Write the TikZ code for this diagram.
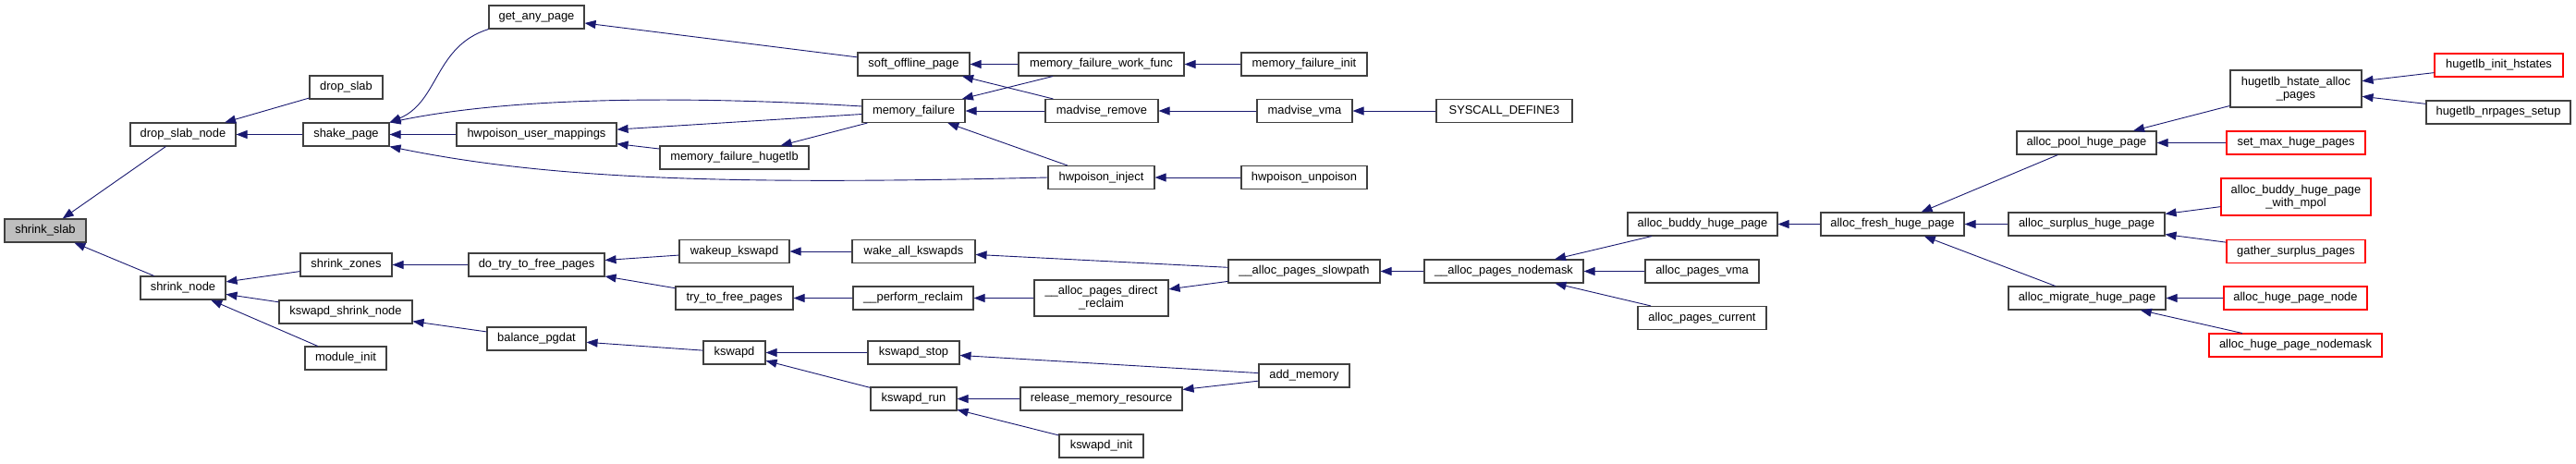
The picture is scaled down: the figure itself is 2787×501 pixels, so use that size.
\documentclass[tikz,border=0pt]{standalone}
\usepackage{fontspec}
\setmainfont{Liberation Sans}
\usepackage{tikz}
\usetikzlibrary{arrows.meta}
\definecolor{EdgeBlue}{HTML}{191970}
\definecolor{BoxLine} {HTML}{404040}
\definecolor{TruncRed}{HTML}{FF0000}
\definecolor{SelFill} {HTML}{BFBFBF}
\tikzset{
  fnbox/.style={draw=BoxLine,line width=1.1pt,fill=white,inner sep=0pt,minimum height=25pt,
        font=\fontsize{12.9}{14}\selectfont,align=center},
  fnred/.style={fnbox,draw=TruncRed},
  fnsel/.style={fnbox,fill=SelFill},
  callarr/.style={draw=EdgeBlue,line width=0.9pt,-{Triangle[length=12pt,width=9pt,fill=EdgeBlue]}},
}

\begin{document}
\begin{tikzpicture}[x=1pt,y=-1pt]
  \useasboundingbox (0,0) rectangle (2787,501);
  \node[fnsel,minimum width=88pt]  (shrinkSlab)      at (49,249.5)   {shrink\_slab};
  \node[fnbox,minimum width=114pt] (dropSlabNode)    at (198,145.5)  {drop\_slab\_node};
  \node[fnbox,minimum width=92pt]  (shrinkNode)      at (198,311.5)  {shrink\_node};
  \node[fnbox,minimum width=79pt]  (dropSlab)        at (374.5,94.5) {drop\_slab};
  \node[fnbox,minimum width=93pt]  (shakePage)       at (374.5,145.5){shake\_page};
  \node[fnbox,minimum width=99pt]  (shrinkZones)     at (374.5,286.5){shrink\_zones};
  \node[fnbox,minimum width=144pt] (kswapdShrink)    at (374,337.5)  {kswapd\_shrink\_node};
  \node[fnbox,minimum width=88pt]  (moduleInit)      at (374,387.5)  {module\_init};
  \node[fnbox,minimum width=103pt] (getAnyPage)      at (580.5,18.5) {get\_any\_page};
  \node[fnbox,minimum width=173pt] (hwpUserMap)      at (580.5,145.5){hwpoison\_user\_mappings};
  \node[fnbox,minimum width=161pt] (mfHugetlb)       at (794.5,170.5){memory\_failure\_hugetlb};
  \node[fnbox,minimum width=147pt] (doTryFree)       at (580.5,286.5){do\_try\_to\_free\_pages};
  \node[fnbox,minimum width=107pt] (balancePgdat)    at (580.5,366.5){balance\_pgdat};
  \node[fnbox,minimum width=119pt] (wakeupKswapd)    at (794.5,272)  {wakeup\_kswapd};
  \node[fnbox,minimum width=127pt] (tryFree)         at (794.5,322.5){try\_to\_free\_pages};
  \node[fnbox,minimum width=67pt]  (kswapd)          at (794.5,381.5){kswapd};
  \node[fnbox,minimum width=121pt] (softOffline)     at (988.5,69.5) {soft\_offline\_page};
  \node[fnbox,minimum width=111pt] (memoryFailure)   at (988.5,120)  {memory\_failure};
  \node[fnbox,minimum width=133pt] (wakeAllKswapds)  at (988.5,272)  {wake\_all\_kswapds};
  \node[fnbox,minimum width=130pt] (performReclaim)  at (988,322.5)  {\_\_perform\_reclaim};
  \node[fnbox,minimum width=99pt]  (kswapdStop)      at (988.5,381.5){kswapd\_stop};
  \node[fnbox,minimum width=93pt]  (kswapdRun)       at (988.5,431.5){kswapd\_run};
  \node[fnbox,minimum width=179pt] (mfWorkFunc)      at (1191.5,69.5){memory\_failure\_work\_func};
  \node[fnbox,minimum width=122pt] (madviseRemove)   at (1192,120)   {madvise\_remove};
  \node[fnbox,minimum width=115pt] (hwpInject)       at (1191.5,192) {hwpoison\_inject};
  \node[fnbox,minimum width=145pt,minimum height=39pt] (directReclaim) at (1191.5,322.5)
       {\_\_alloc\_pages\_direct\\\_reclaim};
  \node[fnbox,minimum width=175pt] (releaseMem)      at (1191.5,431.5){release\_memory\_resource};
  \node[fnbox,minimum width=91pt]  (kswapdInit)      at (1191.5,482.5){kswapd\_init};
  \node[fnbox,minimum width=136pt] (mfInit)          at (1411,69.5)  {memory\_failure\_init};
  \node[fnbox,minimum width=103pt] (madviseVma)      at (1411.5,120) {madvise\_vma};
  \node[fnbox,minimum width=136pt] (hwpUnpoison)     at (1411,192)   {hwpoison\_unpoison};
  \node[fnbox,minimum width=164pt] (slowpath)        at (1411,293.5) {\_\_alloc\_pages\_slowpath};
  \node[fnbox,minimum width=98pt]  (addMemory)       at (1411,406.5) {add\_memory};
  \node[fnbox,minimum width=147pt] (syscallDef)      at (1627.5,120) {SYSCALL\_DEFINE3};
  \node[fnbox,minimum width=172pt] (pagesNodemask)   at (1627,293.5) {\_\_alloc\_pages\_nodemask};
  \node[fnbox,minimum width=162pt] (buddyHuge)       at (1842,242.5) {alloc\_buddy\_huge\_page};
  \node[fnbox,minimum width=123pt] (pagesVma)        at (1841.5,293.5){alloc\_pages\_vma};
  \node[fnbox,minimum width=139pt] (pagesCurrent)    at (1841.5,344) {alloc\_pages\_current};
  \node[fnbox,minimum width=155pt] (freshHuge)       at (2047.5,242.5){alloc\_fresh\_huge\_page};
  \node[fnbox,minimum width=151pt] (poolHuge)        at (2257.5,154.5){alloc\_pool\_huge\_page};
  \node[fnbox,minimum width=169pt] (surplusHuge)     at (2257.5,242.5){alloc\_surplus\_huge\_page};
  \node[fnbox,minimum width=170pt] (migrateHuge)     at (2258,322.5) {alloc\_migrate\_huge\_page};
  \node[fnbox,minimum width=142pt,minimum height=40pt] (hstateAlloc) at (2484,96)
       {hugetlb\_hstate\_alloc\\\_pages};
  \node[fnred,minimum width=150pt] (setMaxHuge)      at (2484,154.5) {set\_max\_huge\_pages};
  \node[fnred,minimum width=162pt,minimum height=40pt] (buddyMpol) at (2484,213)
       {alloc\_buddy\_huge\_page\\\_with\_mpol};
  \node[fnred,minimum width=150pt] (gatherSurplus)   at (2484,272)   {gather\_surplus\_pages};
  \node[fnred,minimum width=155pt] (hugePageNode)    at (2483.5,322.5){alloc\_huge\_page\_node};
  \node[fnred,minimum width=187pt] (hugePageMask)    at (2483.5,373.5){alloc\_huge\_page\_nodemask};
  \node[fnred,minimum width=139pt] (initHstates)     at (2703.5,70.5){hugetlb\_init\_hstates};
  \node[fnbox,minimum width=156pt] (nrpagesSetup)    at (2703,121.5) {hugetlb\_nrpages\_setup};

  \draw[callarr] (dropSlabNode) -- (shrinkSlab);
  \draw[callarr] (shrinkNode) -- (shrinkSlab);
  \draw[callarr] (dropSlab) -- (dropSlabNode);
  \draw[callarr] (shakePage) -- (dropSlabNode);
  \draw[callarr] (shrinkZones) -- (shrinkNode);
  \draw[callarr] (kswapdShrink) -- (shrinkNode);
  \draw[callarr] (moduleInit) -- (shrinkNode);
  \draw[callarr] (getAnyPage.south west) .. controls (470,50) and (475,110) .. (shakePage.north east);
  \draw[callarr] ([yshift=5pt]memoryFailure.west) .. controls (750,104) and (560,104) .. (shakePage.north east);
  \draw[callarr] (hwpUserMap) -- (shakePage);
  \draw[callarr] (hwpInject.west) .. controls (800,200) and (600,195) .. (shakePage.south east);
  \draw[callarr] (softOffline) -- (getAnyPage);
  \draw[callarr] (memoryFailure) -- (hwpUserMap);
  \draw[callarr] (mfHugetlb) -- (hwpUserMap);
  \draw[callarr] (memoryFailure) -- (mfHugetlb);
  \draw[callarr] (mfWorkFunc) -- (softOffline);
  \draw[callarr] (madviseRemove) -- (softOffline);
  \draw[callarr] (mfWorkFunc) -- (memoryFailure);
  \draw[callarr] (madviseRemove) -- (memoryFailure);
  \draw[callarr] (hwpInject) -- (memoryFailure);
  \draw[callarr] (mfInit) -- (mfWorkFunc);
  \draw[callarr] (madviseVma) -- (madviseRemove);
  \draw[callarr] (syscallDef) -- (madviseVma);
  \draw[callarr] (hwpUnpoison) -- (hwpInject);
  \draw[callarr] (doTryFree) -- (shrinkZones);
  \draw[callarr] (balancePgdat) -- (kswapdShrink);
  \draw[callarr] (wakeupKswapd) -- (doTryFree);
  \draw[callarr] (tryFree) -- (doTryFree);
  \draw[callarr] (wakeAllKswapds) -- (wakeupKswapd);
  \draw[callarr] (performReclaim) -- (tryFree);
  \draw[callarr] (slowpath) -- (wakeAllKswapds);
  \draw[callarr] (slowpath) -- (directReclaim);
  \draw[callarr] (directReclaim) -- (performReclaim);
  \draw[callarr] (kswapd) -- (balancePgdat);
  \draw[callarr] (kswapdStop) -- (kswapd);
  \draw[callarr] (kswapdRun) -- (kswapd);
  \draw[callarr] (addMemory) -- (kswapdStop);
  \draw[callarr] (addMemory) -- (releaseMem);
  \draw[callarr] (releaseMem) -- (kswapdRun);
  \draw[callarr] (kswapdInit) -- (kswapdRun);
  \draw[callarr] (pagesNodemask) -- (slowpath);
  \draw[callarr] (buddyHuge) -- (pagesNodemask);
  \draw[callarr] (pagesVma) -- (pagesNodemask);
  \draw[callarr] (pagesCurrent) -- (pagesNodemask);
  \draw[callarr] (freshHuge) -- (buddyHuge);
  \draw[callarr] (poolHuge) -- (freshHuge);
  \draw[callarr] (surplusHuge) -- (freshHuge);
  \draw[callarr] (migrateHuge) -- (freshHuge);
  \draw[callarr] (hstateAlloc) -- (poolHuge);
  \draw[callarr] (setMaxHuge) -- (poolHuge);
  \draw[callarr] (initHstates) -- (hstateAlloc);
  \draw[callarr] (nrpagesSetup) -- (hstateAlloc);
  \draw[callarr] (buddyMpol) -- (surplusHuge);
  \draw[callarr] (gatherSurplus) -- (surplusHuge);
  \draw[callarr] (hugePageNode) -- (migrateHuge);
  \draw[callarr] (hugePageMask) -- (migrateHuge);
\end{tikzpicture}
\end{document}
